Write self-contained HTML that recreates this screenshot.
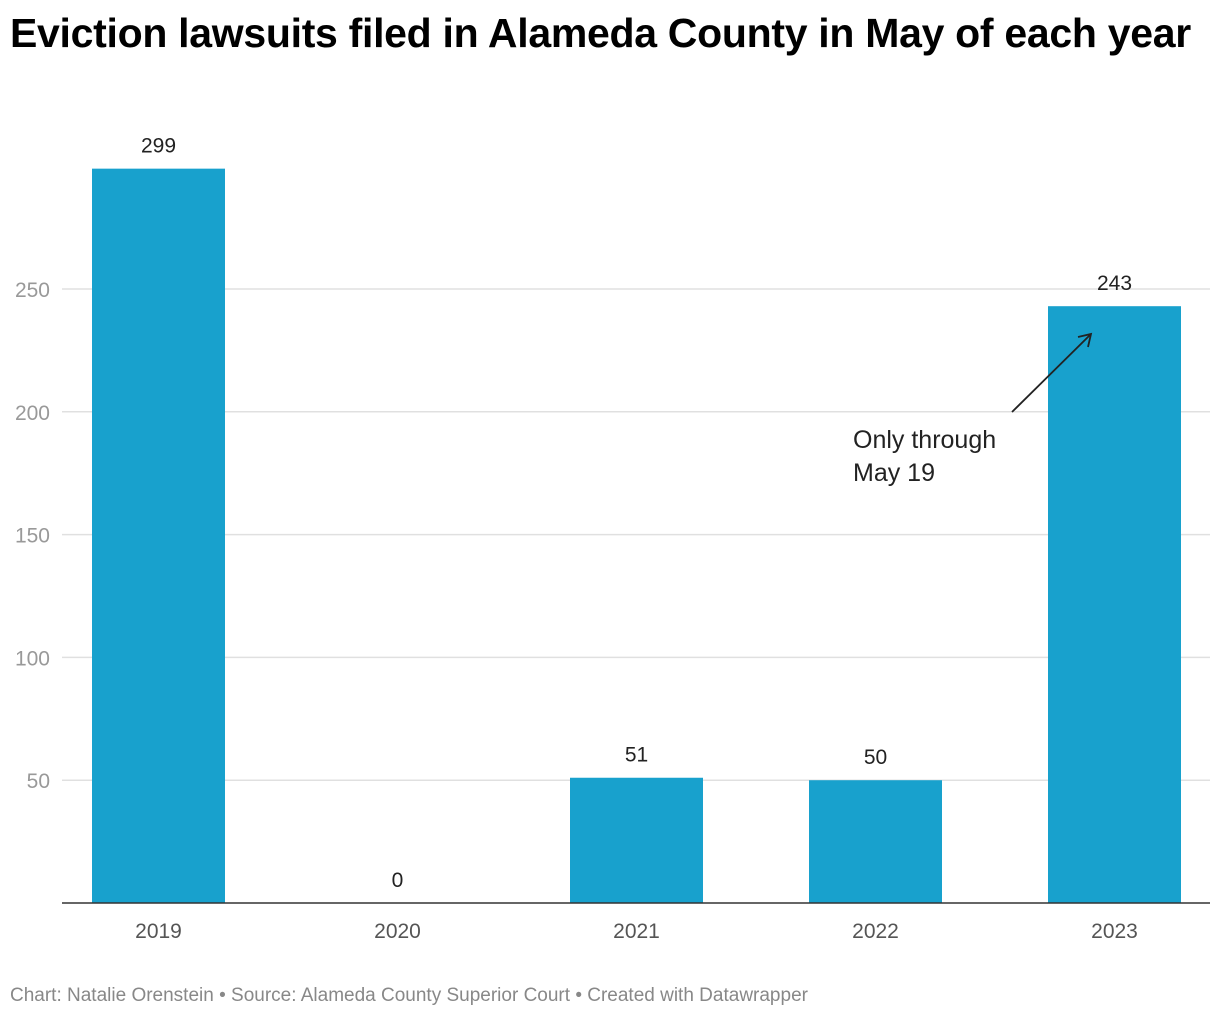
<!DOCTYPE html>
<html><head><meta charset="utf-8">
<style>
body{margin:0;background:#fff;font-family:"Liberation Sans",Arial,sans-serif;}
#wrap{position:relative;width:1220px;height:1020px;}
h1{position:absolute;left:10px;top:8px;margin:0;font-size:41px;line-height:50px;font-weight:bold;color:#000;width:1190px;letter-spacing:-0.3px}
#foot{position:absolute;left:10px;top:985px;font-size:19px;color:#888;}
</style></head><body>
<div id="wrap">
<h1>Eviction lawsuits filed in Alameda County in May of each year</h1>
<svg id="c" width="1220" height="1020" style="position:absolute;left:0;top:0"></svg>
<div id="foot">Chart: Natalie Orenstein • Source: Alameda County Superior Court • Created with Datawrapper</div>
</div>
<script>
const categories=["2019","2020","2021","2022","2023"];
const values=[299,0,51,50,243];
const ticks=[50,100,150,200,250];
const ns="http://www.w3.org/2000/svg";
const svg=document.getElementById('c');
const y0=903, pxPer=2.456, x0=158.5, step=239, bw=133;
const y=v=>y0-v*pxPer;
const x=i=>x0+i*step;
function mk(t,a,txt){const e=document.createElementNS(ns,t);for(const k in a)e.setAttribute(k,a[k]);if(txt!==undefined)e.textContent=txt;svg.appendChild(e);return e;}
ticks.forEach(t=>{
 const l=mk('line',{x1:62,x2:1210,y1:y(t),y2:y(t),stroke:'#e0e0e0','stroke-width':1.5});
 
 
 const tx=mk('text',{x:50,y:y(t)+8,'text-anchor':'end','font-size':21,fill:'#999','font-family':'Liberation Sans, sans-serif'},t);
 
 
});
categories.forEach((c,i)=>{
 const v=values[i];
 if(v>0){const r=mk('rect',{x:x(i)-bw/2,y:y(v),width:bw,height:y0-y(v),fill:'#18a1cd'});
 
 }
 const vl=mk('text',{x:x(i),y:y(v)-16,'text-anchor':'middle','font-size':21,fill:'#222','font-family':'Liberation Sans, sans-serif'},v);
 
 
 const xl=mk('text',{x:x(i),y:938,'text-anchor':'middle','font-size':21,fill:'#555','font-family':'Liberation Sans, sans-serif'},c);
 
 
});
const ax=mk('line',{x1:62,x2:1210,y1:y0,y2:y0,stroke:'#333','stroke-width':1.5});


const ar=mk('line',{x1:1012,y1:412,x2:1090,y2:335,stroke:'#222','stroke-width':1.8});


const ah=mk('path',{d:'M1078,337 L1091,334 L1088,347',fill:'none',stroke:'#222','stroke-width':1.8});


[["Only through",448],["May 19",481]].forEach(([t,yy])=>{
 const a=mk('text',{x:853,y:yy,'font-size':25,fill:'#222','font-family':'Liberation Sans, sans-serif'},t);
 
 
});
</script>
</body></html>
